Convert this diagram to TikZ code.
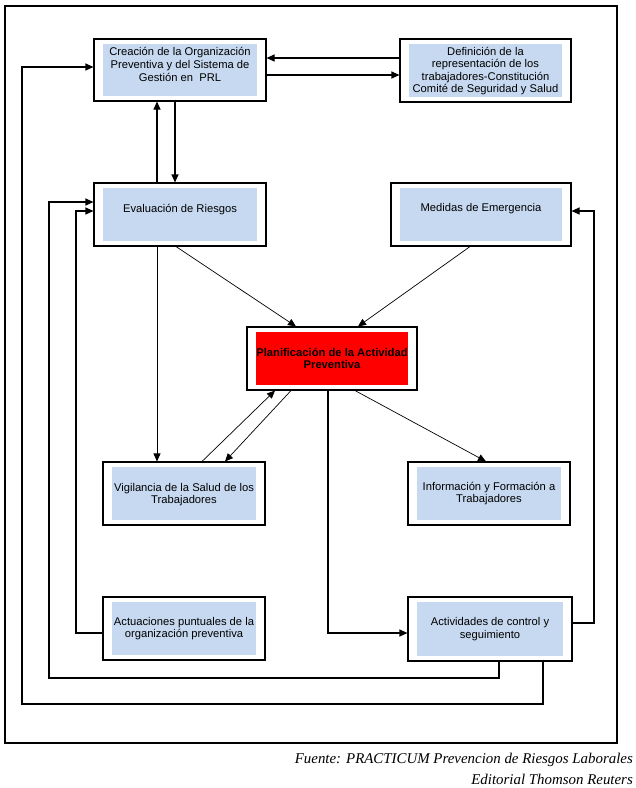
\documentclass[tikz,border=0pt]{standalone}
\usepackage{fontspec}
\setmainfont{Liberation Sans}
\newfontfamily\footfont{Liberation Serif}
\usetikzlibrary{arrows.meta}
\definecolor{boxblue}{RGB}{198,217,240}
\definecolor{boxred}{RGB}{255,0,0}
\tikzset{
  box/.style={draw, line width=1.1pt, inner sep=0pt, fill=white,
    path picture={\fill[#1] ([shift={(9pt,5pt)}]path picture bounding box.south west) rectangle ([shift={(-9pt,-5pt)}]path picture bounding box.north east);}},
  box/.default=boxblue,
  txt/.style={align=center, inner sep=0pt, font=\fontsize{11.2}{12.6}\selectfont},
  conn/.style={line width=1.1pt, -{Triangle[length=8pt,width=7pt]}},
  diag/.style={line width=0.7pt, -{Triangle[length=8pt,width=7pt]}},
  foot/.style={anchor=east, inner sep=0pt, font=\footfont\itshape\fontsize{14.9}{17}\selectfont},
}
\begin{document}
\begin{tikzpicture}[x=1pt,y=-1pt]
\useasboundingbox (0,0) rectangle (636,788);
% frame
\draw[line width=1.1pt] (5,6) rectangle (617,743);
% boxes
\node[box, minimum width=172pt, minimum height=62pt] (crea) at (180,70) {};
\node[box, minimum width=171pt, minimum height=63pt] (defi) at (485.5,70.5) {};
\node[box, minimum width=172pt, minimum height=63pt] (eval) at (180,214.5) {};
\node[box, minimum width=180pt, minimum height=63pt] (medi) at (481,214.5) {};
\node[box=boxred, minimum width=170pt, minimum height=63pt] (plan) at (332,358.5) {};
\node[box, minimum width=162pt, minimum height=63pt] (vigi) at (184,493.5) {};
\node[box, minimum width=162pt, minimum height=63pt] (info) at (489,493.5) {};
\node[box, minimum width=162pt, minimum height=63pt] (actu) at (184,628.5) {};
\node[box, minimum width=164pt, minimum height=64pt] (acti) at (490,629) {};
% texts
\node[txt] (crea-t) at (180,64.5) {Creación de la Organización\\Preventiva y del Sistema de\\Gestión en\ \ PRL};
\node[txt] (defi-t) at (485.5,71) {Definición de la\\representación de los\\trabajadores-Constitución\\Comité de Seguridad y Salud};
\node[txt] (eval-t) at (180,209.5) {Evaluación de Riesgos};
\node[txt] (medi-t) at (481,208.5) {Medidas de Emergencia};
\node[txt, font=\fontsize{11.2}{12.6}\selectfont\bfseries] (plan-t) at (332,358.5) {Planificación de la Actividad\\Preventiva};
\node[txt] (vigi-t) at (184,494.5) {Vigilancia de la Salud de los\\Trabajadores};
\node[txt] (info-t) at (489,493.7) {Información y Formación a\\Trabajadores};
\node[txt] (actu-t) at (184,628.5) {Actuaciones puntuales de la\\organización preventiva};
\node[txt] (acti-t) at (490,628.8) {Actividades de control y\\seguimiento};
% connectors top
\draw[conn] (defi.west |- 0,58) -- (crea.east |- 0,58);
\draw[conn] (crea.east |- 0,75) -- (defi.west |- 0,75);
\draw[conn] (eval.north -| 157,0) -- (crea.south -| 157,0);
\draw[conn] (crea.south -| 175,0) -- (eval.north -| 175,0);
% diagonals
\draw[diag] (eval.south -| 176,0) -- (plan.north -| 296,0);
\draw[diag] (medi.south -| 470,0) -- (plan.north -| 358,0);
\draw[diag] (eval.south -| 157,0) -- (vigi.north -| 157,0);
\draw[diag] (vigi.north -| 202,0) -- (plan.south -| 275,0);
\draw[diag] (plan.south -| 291,0) -- (vigi.north -| 225,0);
\draw[diag] (plan.south -| 355,0) -- (info.north -| 486,0);
% planificacion -> actividades
\draw[conn] (plan.south -| 328,0) |- (acti.west |- 0,633);
% feedback loops
\coordinate (c1) at (76,633);
\draw[conn] (actu.west |- 0,633) -- (c1) |- (eval.west |- 0,211);
\coordinate (c2) at (594,623);
\draw[conn] (acti.east |- 0,623) -- (c2) |- (medi.east |- 0,211);
\coordinate (c3) at (499,678);
\coordinate (c4) at (49,678);
\draw[conn] (acti.south -| 499,0) -- (c3) -- (c4) |- (eval.west |- 0,202);
\coordinate (c5) at (543,704);
\coordinate (c6) at (22,704);
\draw[conn] (acti.south -| 543,0) -- (c5) -- (c6) |- (crea.west |- 0,67);
% footer
\node[foot] (foot1) at (633,760) {Fuente: PRACTICUM Prevencion de Riesgos Laborales};
\node[foot] (foot2) at (633,779) {Editorial Thomson Reuters};
\end{tikzpicture}
\end{document}
